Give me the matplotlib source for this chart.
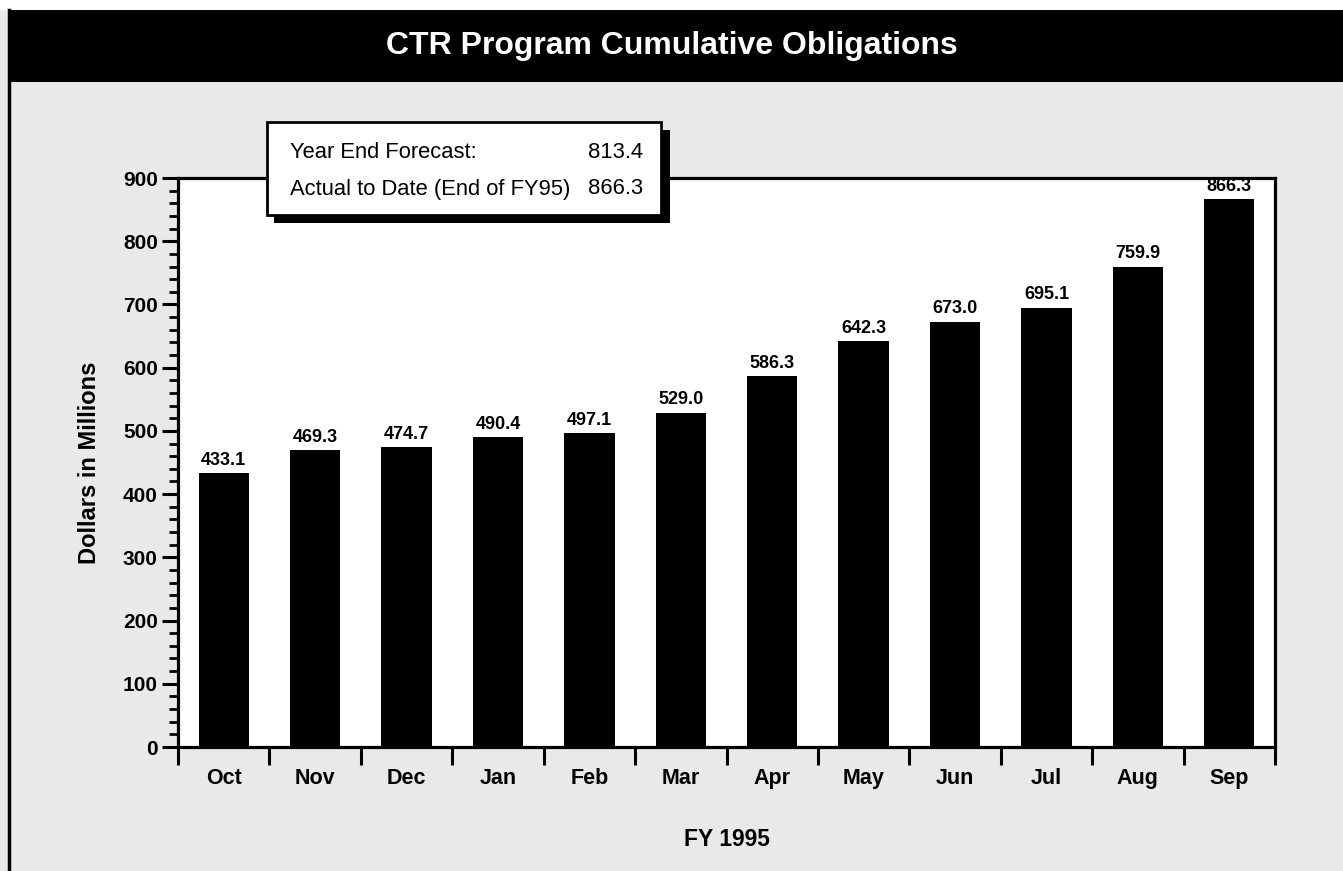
import matplotlib
matplotlib.use("Agg")
from matplotlib import pyplot as plt
from matplotlib.patches import Rectangle
from matplotlib.lines import Line2D
from matplotlib.ticker import MultipleLocator, FixedLocator

plt.rcParams['font.family'] = ['Liberation Sans', 'DejaVu Sans']

# data
months = ["Oct", "Nov", "Dec", "Jan", "Feb", "Mar",
          "Apr", "May", "Jun", "Jul", "Aug", "Sep"]
obligations = [433.1, 469.3, 474.7, 490.4, 497.1, 529.0,
               586.3, 642.3, 673.0, 695.1, 759.9, 866.3]
legend_rows = ["Year End Forecast:", "Actual to Date (End of FY95)"]
legend_vals = ["813.4", "866.3"]

W, H = 1343, 871
fig = plt.figure(figsize=(W / 100, H / 100), dpi=100, facecolor="#e9e9e9")


def fx(px):
    return px / W


def fy(px):
    return 1 - px / H


# white strip above the title band, black band, left border line
fig.add_artist(Rectangle((0, fy(10)), 1, 10 / H, transform=fig.transFigure,
                         facecolor="white", edgecolor="none", zorder=0))
fig.add_artist(Rectangle((fx(8), fy(82)), 1 - fx(8), 72 / H, transform=fig.transFigure,
                         facecolor="black", edgecolor="none", zorder=0))
fig.add_artist(Line2D([fx(9), fx(9)], [0, fy(10)], transform=fig.transFigure,
                      color="black", lw=2.5, zorder=0))
fig.text(0.5, fy(46), "CTR Program Cumulative Obligations", color="white",
         fontsize=23, fontweight="bold", ha="center", va="center")

ax = fig.add_axes([fx(178), fy(747), fx(1275) - fx(178), (747 - 178) / H])
ax.set_facecolor("white")

x = list(range(len(months)))
bars = ax.bar(x, obligations, width=0.55, color="black", zorder=2)
for xi, v in zip(x, obligations):
    ax.annotate(f"{v:.1f}", (xi, v), xytext=(0, 3), textcoords="offset points",
                ha="center", va="bottom", fontsize=13, fontweight="bold")

ax.set_xlim(-0.5, len(months) - 0.5)
ax.set_ylim(0, 900)

for s in ax.spines.values():
    s.set_linewidth(2.3)
    s.set_color("black")

ax.yaxis.set_major_locator(MultipleLocator(100))
ax.yaxis.set_minor_locator(MultipleLocator(20))
ax.tick_params(axis="y", which="major", direction="out", length=11.5, width=2.2,
               pad=3, labelsize=15)
ax.tick_params(axis="y", which="minor", direction="out", length=6.5, width=2)
for lab in ax.get_yticklabels():
    lab.set_fontweight("bold")

ax.set_xticks(x)
ax.set_xticklabels(months, fontweight="bold", fontsize=15.5)
ax.xaxis.set_minor_locator(FixedLocator([i - 0.5 for i in range(len(months) + 1)]))
ax.tick_params(axis="x", which="major", length=0, pad=15)
ax.tick_params(axis="x", which="minor", direction="out", length=13, width=2.2)

ax.set_xlabel("FY 1995", fontsize=16.5, fontweight="bold", labelpad=28)
ax.set_ylabel("Dollars in Millions", fontsize=17, fontweight="bold", labelpad=16)

# forecast box with drop shadow
fig.add_artist(Rectangle((fx(274), fy(223)), fx(670) - fx(274), (223 - 130) / H,
                         transform=fig.transFigure, facecolor="black",
                         edgecolor="none", zorder=5))
fig.add_artist(Rectangle((fx(267), fy(215)), fx(661) - fx(267), (215 - 122) / H,
                         transform=fig.transFigure, facecolor="white",
                         edgecolor="black", lw=2, zorder=6))
for row, (lab, val) in enumerate(zip(legend_rows, legend_vals)):
    yy = fy(153 + row * 36)
    fig.text(fx(290), yy, lab, fontsize=15.8, ha="left", va="center", zorder=7)
    fig.text(fx(643), yy, val, fontsize=15.8, ha="right", va="center", zorder=7)

fig.savefig("out.png", dpi=100, facecolor=fig.get_facecolor())
